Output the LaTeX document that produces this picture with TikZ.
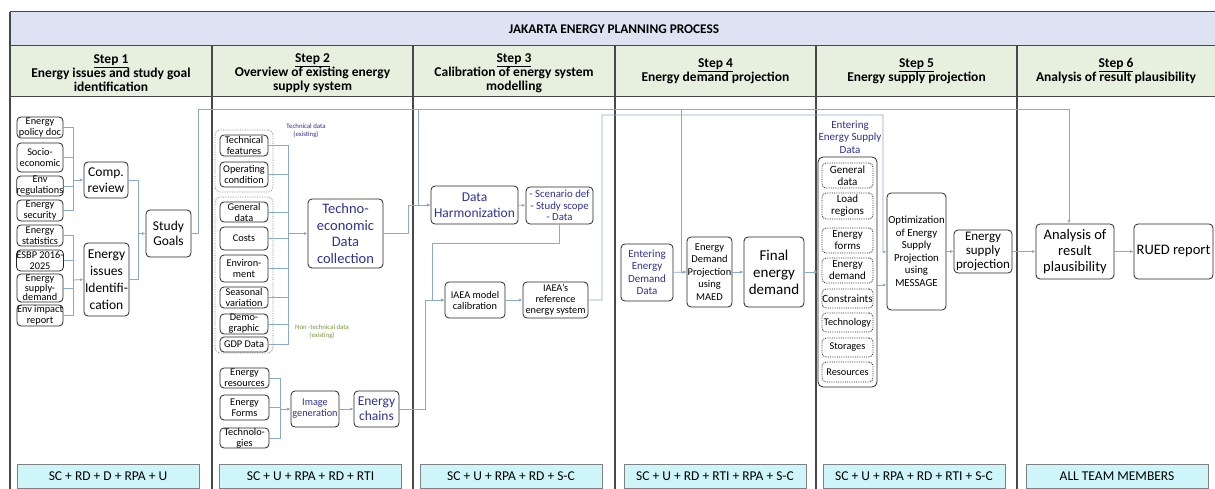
\documentclass[tikz,border=0pt]{standalone}
\usepackage{fontspec}
\setmainfont{Carlito}
\usetikzlibrary{arrows.meta}
\definecolor{barblue}{RGB}{221,227,243}
\definecolor{headgreen}{RGB}{231,240,222}
\definecolor{teamcyan}{RGB}{206,246,250}
\definecolor{wireblue}{RGB}{138,170,204}
\definecolor{txtblue}{RGB}{48,48,150}
\definecolor{txtolive}{RGB}{118,150,62}
\definecolor{framegray}{RGB}{72,72,72}

\tikzset{
	box/.style={draw=black!85, line width=0.8pt, rounded corners=4pt, align=center, inner sep=0pt, font=\fontsize{10.3}{11}\selectfont},
	bigbox/.style={box, font=\fontsize{13.5}{15.5}\selectfont},
	dotbox/.style={box, densely dotted},
	grpbox/.style={draw=gray, line width=0.7pt, densely dotted, rounded corners=5pt, inner sep=0pt},
	sz/.style 2 args={minimum width=#1pt, minimum height=#2pt},
	blue/.style={text=txtblue},
	head/.style={align=center, font=\bfseries\fontsize{13.5}{14}\selectfont},
	wire/.style={draw=wireblue, line width=0.8pt},
	arr/.style={wire, -{Latex[length=3.5pt,width=3pt]}},
	team/.style={draw=gray, line width=0.8pt, fill=teamcyan, minimum width=182pt, minimum height=24pt, font=\fontsize{13.5}{14}\selectfont},
}

\begin{document}
\begin{tikzpicture}[x=1pt,y=-1pt]
	%%%%% START %%%%%
	\clip (0,0) rectangle (1215,489);
	
	\draw[framegray, line width=1pt, fill=barblue] (10,12) rectangle (1240,46);
	\draw[framegray, line width=1pt, fill=headgreen] (10,46) rectangle (1240,97);
	\node[font=\bfseries\fontsize{13.3}{15}\selectfont] (title) at (614,29) {JAKARTA ENERGY PLANNING PROCESS};
	
	\draw[framegray, line width=1.3pt] (10,12) -- (10,500);
	\foreach \cx in {212,413,615,816,1017}
		\draw[framegray, line width=1.3pt] (\cx,46) -- (\cx,500);
	
	\node[head] (h1) at (111,73) {\underline{Step 1}\\Energy issues and study goal\\identification};
	\node[head] (h2) at (312.5,73) {\underline{Step 2}\\Overview of existing energy\\supply system};
	\node[head] (h3) at (514,73) {\underline{Step 3}\\Calibration of energy system\\modelling};
	\node[head] (h4) at (715.5,71) {\underline{Step 4}\\Energy demand projection};
	\node[head] (h5) at (916.5,71) {\underline{Step 5}\\Energy supply projection};
	\node[head] (h6) at (1116,71) {\underline{Step 6}\\Analysis of result plausibility};
	
	% step 1
	\node[box, sz={46}{21}] (pol) at (40,127.5) {Energy\\policy doc};
	\node[box, sz={46}{29}] (soc) at (40,157.5) {Socio-\\economic};
	\node[box, sz={46}{20}] (envr) at (40,186) {Env\\regulations};
	\node[box, sz={46}{21}] (sec) at (40,210.5) {Energy\\security};
	\node[box, sz={46}{21}] (stat) at (40,235.5) {Energy\\statistics};
	\node[box, sz={46}{21}] (esbp) at (40,260.5) {ESBP 2016-\\2025};
	\node[box, sz={46}{28}, font=\fontsize{10.3}{9.5}\selectfont] (sd) at (40,288) {Energy\\supply-\\demand};
	\node[box, sz={46}{21}] (eia) at (40,315.5) {Env impact\\report};
	\node[bigbox, sz={44}{36}] (comp) at (106,180) {Comp.\\review};
	\node[bigbox, sz={45}{73}, font=\fontsize{13.5}{17}\selectfont] (iss) at (106.5,279.5) {Energy\\issues\\Identifi-\\cation};
	\node[bigbox, sz={45}{47}] (goal) at (168.5,233.5) {Study\\Goals};
	
	\coordinate (b1) at (73,180);
	\coordinate (b2) at (73,280);
	\coordinate (b3) at (138,233.5);
	\foreach \n in {pol,soc,envr,sec} \draw[wire] (\n.east) -| (b1);
	\foreach \n in {stat,esbp,sd,eia} \draw[wire] (\n.east) -| (b2);
	\draw[arr] (b1) -- (comp.west);
	\draw[arr] (b2) -- (iss.west);
	\draw[wire] (comp.east) -| (b3);
	\draw[wire] (iss.east) -| (b3);
	\draw[arr] (b3) -- (goal.west);
	
	% step 2
	\node[grpbox, sz={58}{62}] (grpT) at (244,161) {};
	\node[grpbox, sz={58}{156}] (grpN) at (244,275) {};
	\node[box, sz={48}{21}] (tf) at (244,145.5) {Technical\\features};
	\node[box, sz={48}{25}] (oc) at (244,174.5) {Operating\\condition};
	\node[box, sz={48}{20}] (gd) at (244,212) {General\\data};
	\node[box, sz={48}{23}] (cost) at (244,238.5) {Costs};
	\node[box, sz={48}{27}] (env) at (244,268.5) {Environ-\\ment};
	\node[box, sz={48}{21}] (sv) at (244,297.5) {Seasonal\\variation};
	\node[box, sz={48}{20}] (demo) at (244,324) {Demo-\\graphic};
	\node[box, sz={48}{15}] (gdp) at (244,344.5) {GDP Data};
	\node[blue, align=center, font=\fontsize{6.8}{7.8}\selectfont] (techlbl) at (306,131) {Technical data\\(existing)};
	\node[text=txtolive, align=center, font=\fontsize{6.8}{7.8}\selectfont] (nonlbl) at (322,332) {Non -technical data\\(existing)};
	\node[bigbox, blue, sz={75}{69}, font=\fontsize{14.5}{16.5}\selectfont] (tedc) at (345.5,233.5) {Techno-\\economic\\Data\\collection};
	
	\coordinate (b4) at (288,233.5);
	\foreach \n in {tf,oc,gd,cost,env,sv,demo,gdp} \draw[wire] (\n.east) -| (b4);
	\draw[arr] (b4) -- (tedc.west);
	
	\node[box, sz={49}{20}] (res) at (244.5,378) {Energy\\resources};
	\node[box, sz={49}{25}] (frm) at (244.5,407.5) {Energy\\Forms};
	\node[box, sz={49}{20}] (tec) at (244.5,438) {Technolo-\\gies};
	\node[box, blue, sz={48}{36}] (img) at (315,409) {Image\\generation};
	\node[bigbox, blue, sz={45}{36}, font=\fontsize{13.5}{15}\selectfont] (ech) at (376.5,409) {Energy\\chains};
	
	\coordinate (b5) at (280,409);
	\foreach \n in {res,frm,tec} \draw[wire] (\n.east) -| (b5);
	\draw[arr] (b5) -- (img.west);
	\draw[arr] (img) -- (ech);
	
	% step 3
	\node[bigbox, blue, sz={87}{38}, font=\fontsize{13.5}{15.5}\selectfont] (dh) at (474.5,205) {Data\\Harmonization};
	\node[box, blue, sz={67}{37}, font=\fontsize{10.8}{11.5}\selectfont] (scn) at (559.5,205.5) {- Scenario def\\- Study scope\\- Data};
	\node[box, sz={60}{36}] (cal) at (475,300) {IAEA model\\calibration};
	\node[box, sz={65}{36}] (ref) at (555.5,300) {IAEA's\\reference\\energy system};
	
	\coordinate (jn1) at (198,109);
	\coordinate (jn2) at (418,109);
	\coordinate (jn3) at (432,243);
	\coordinate (jn4) at (425,300);
	\coordinate (jn5) at (602,115);
	\coordinate (jn6) at (883,252);
	\coordinate (jn7) at (681,109);
	
	\draw[arr] (tedc.east) -- ++(25,0) |- (dh.west);
	\draw[arr] (jn2) |- (dh.west);
	\draw[arr] (dh) -- (scn);
	\draw[arr] (scn.south) |- (jn3) |- (cal.west);
	\draw[arr] (ech.east) -| (jn4) -- (cal.west);
	\draw[arr] (cal) -- (ref);
	
	% step 4
	\node[box, blue, sz={52}{57}, font=\fontsize{11}{12.5}\selectfont] (edd) at (647,272.5) {Entering\\Energy\\Demand\\Data};
	\node[box, sz={45}{70}, font=\fontsize{10.5}{12.5}\selectfont] (maed) at (709.5,272) {Energy\\Demand\\Projection\\using\\MAED};
	\node[bigbox, sz={60}{70}, font=\fontsize{15}{17}\selectfont] (fed) at (774,272) {Final\\energy\\demand};
	
	\draw[arr] (edd) -- (maed);
	\draw[arr] (jn7) |- (maed.west);
	\draw[arr] (maed) -- (fed);
	
	% step 5
	\node[blue, align=center, font=\fontsize{11}{12.5}\selectfont] (esdlbl) at (850,137) {Entering\\Energy Supply\\Data};
	\node[box, sz={59}{230}, rounded corners=5pt] (grpS) at (847.5,272) {};
	\node[dotbox, sz={51}{25}, font=\fontsize{11}{12}\selectfont] (gen2) at (847.5,175.5) {General\\data};
	\node[dotbox, sz={51}{26}, font=\fontsize{11}{12}\selectfont] (load) at (847.5,206) {Load\\regions};
	\node[dotbox, sz={51}{25}, font=\fontsize{11}{12}\selectfont] (efm) at (847.5,240.5) {Energy\\forms};
	\node[dotbox, sz={51}{25}, font=\fontsize{11}{12}\selectfont] (edm) at (847.5,270.5) {Energy\\demand};
	\node[dotbox, sz={51}{19}, font=\fontsize{11}{12}\selectfont] (cons) at (847.5,298.5) {Constraints};
	\node[dotbox, sz={51}{19}] (tchn) at (847.5,322.5) {Technology};
	\node[dotbox, sz={51}{19}] (stor) at (847.5,347.5) {Storages};
	\node[dotbox, sz={51}{20}] (rsrc) at (847.5,372) {Resources};
	\node[box, sz={59}{117}, font=\fontsize{10.8}{12.5}\selectfont] (opt) at (916.5,251.5) {Optimization\\of Energy\\Supply\\Projection\\using\\MESSAGE};
	\node[bigbox, sz={58}{43}, font=\fontsize{13}{14}\selectfont] (esp) at (983,251.5) {Energy\\supply\\projection};
	
	\draw[arr] (fed.east) -- (grpS.west |- fed.east);
	\draw[arr] (ref.east) -| (jn5) -| (jn6) -- (opt.west);
	\draw[arr] (grpS.east |- 0,285) -- (opt.west |- 0,285);
	\draw[arr] (opt) -- (esp);
	
	% step 6
	\node[bigbox, sz={78}{55}, font=\fontsize{14.5}{16}\selectfont] (ana) at (1075,251.5) {Analysis of\\result\\plausibility};
	\node[bigbox, sz={79}{55}, font=\fontsize{14.5}{16}\selectfont] (rued) at (1173.5,251.5) {RUED report};
	
	\draw[arr] (goal.east) -| (jn1) -| ([xshift=-6pt]ana.north);
	\draw[arr] (esp) -- (ana);
	\draw[arr] (ana) -- (rued);
	
	% teams
	\node[team] (t1) at (108,476) {SC + RD + D + RPA + U};
	\node[team] (t2) at (310.5,476) {SC + U + RPA + RD + RTI};
	\node[team] (t3) at (511,476) {SC + U + RPA + RD + S-C};
	\node[team] (t4) at (715,476) {SC + U + RD + RTI + RPA + S-C};
	\node[team] (t5) at (914,476) {SC + U + RPA + RD + RTI + S-C};
	\node[team] (t6) at (1117,476) {ALL TEAM MEMBERS};
	
	%%%%% END %%%%%
\end{tikzpicture}
\end{document}
